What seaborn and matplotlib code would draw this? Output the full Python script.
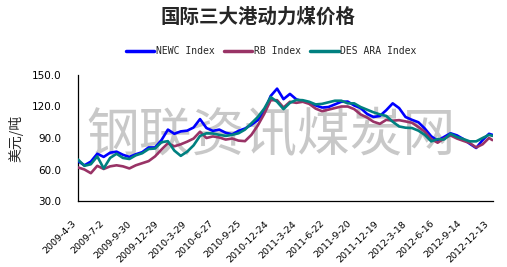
import matplotlib
matplotlib.use("Agg")
import matplotlib.pyplot as plt
import seaborn as sns
import pandas as pd
import numpy as np

# ---- data ----
sample_dates = list(pd.date_range("2009-04-03", periods=65, freq="21D")) + [pd.Timestamp("2012-12-18")]

newc = [68, 64, 67.5, 75, 72, 76, 77, 74, 72, 74.5, 76.5, 81, 81, 88, 98, 94, 96.3, 97, 100, 108,
        99.5, 96.8, 98, 95, 93.5, 96.8, 99, 102.6, 107, 115, 130, 137, 127, 132, 126.8, 125, 123.5,
        121, 119, 119.5, 122, 124.5, 124.7, 121, 118.5, 113, 110, 111, 116.5, 123, 118.5, 110,
        107.3, 105, 99, 91.6, 87.5, 91, 94.5, 92.5, 89, 84.5, 80.5, 88, 94, 93]
rb = [62, 60, 56.5, 63.5, 60.5, 63, 64, 63, 61, 64, 66, 68, 72.5, 79, 85, 82.1, 84, 86.5, 89.5, 96,
      90, 91.5, 90.5, 88.5, 89.5, 87.5, 87, 93, 102, 113, 126, 126, 119, 124.5, 123.5, 124.5, 122.5,
      118, 115.5, 117, 118.5, 120, 120, 117.5, 112.5, 109.5, 105.5, 103.5, 107.3, 106.5, 107, 105.8,
      104.5, 100.5, 96, 89, 85.5, 89.5, 92.5, 89.5, 87.3, 85.2, 81, 84, 90, 88]
des_ara = [69.5, 63.5, 65, 72.5, 61, 71, 75, 71, 70, 73.5, 75.5, 79.5, 80, 86, 87, 78, 73, 77, 83, 92,
           94.5, 94.3, 93, 92, 93, 94.5, 98, 104, 110, 118, 129, 124.5, 117.5, 123.5, 126.3, 126,
           124.5, 122, 122.5, 124, 125.5, 125.5, 123, 123, 119.5, 117, 114.5, 112.5, 111, 105.5,
           101, 99.8, 99.5, 97, 93, 86.8, 89, 88.5, 94, 91, 89, 86.8, 86.8, 90, 93, 92]

series_names = ["NEWC Index", "RB Index", "DES ARA Index"]
colors = ["#0000FF", "#993366", "#008080"]
tick_dates = pd.date_range("2009-04-03", periods=16, freq="90D")
tick_labels = [f"{d.year}-{d.month}-{d.day}" for d in tick_dates]
y_ticks = [30, 60, 90, 120, 150]
title = "国际三大港动力煤价格"
ylabel = "美元/吨"
watermark = "钢联资讯煤炭网"

df = pd.DataFrame({
    "date": sample_dates * 3,
    "value": newc + rb + des_ara,
    "series": [series_names[0]] * len(newc) + [series_names[1]] * len(rb) + [series_names[2]] * len(des_ara),
})

sns.set_style("white")
plt.rcParams["font.family"] = ["DejaVu Sans", "Noto Sans CJK SC"]

fig = plt.figure(figsize=(5.07, 2.67), dpi=100)
ax = fig.add_axes([78 / 507, 66 / 267, 415 / 507, 126 / 267])

sns.lineplot(data=df, x="date", y="value", hue="series", hue_order=series_names,
             palette=dict(zip(series_names, colors)), linewidth=1.9, ax=ax, legend=False,
             estimator=None, sort=False, zorder=3)

ax.set_xlim(pd.Timestamp("2009-04-03"), pd.Timestamp("2012-12-20"))
ax.set_ylim(30, 150)
ax.set_yticks(y_ticks)
ax.set_yticklabels([f"{v:.1f}" for v in y_ticks], fontsize=7.5)
ax.set_xticks(tick_dates)
ax.set_xticklabels(tick_labels, rotation=45, ha="right", va="top", fontsize=6.8)
ax.tick_params(axis="x", direction="in", length=3, width=0.8, pad=13, colors="black")
ax.tick_params(axis="y", direction="in", length=3, width=0.8, pad=12, colors="black")
ax.set_xlabel("")
ax.set_ylabel(ylabel, fontsize=10, family=["Noto Sans CJK SC"], labelpad=6)
for s in ["top", "right"]:
    ax.spines[s].set_visible(False)
for s in ["left", "bottom"]:
    ax.spines[s].set_color("black")
    ax.spines[s].set_linewidth(0.9)
ax.grid(False)

ax.text(0.465, 0.52, watermark, transform=ax.transAxes, ha="center", va="center",
        fontsize=38, color="#C8C8C8", family=["Noto Sans CJK SC"], weight="light", zorder=1)

fig.text(0.509, 1 - 17 / 267, title, ha="center", va="center", fontsize=14,
         family=["Noto Sans CJK SC"], weight="bold")

handles = [plt.Line2D([], [], color=c, lw=2.5) for c in colors]
fig.legend(handles, series_names, loc="center", bbox_to_anchor=(0.535, 1 - 51 / 267), ncol=3,
           frameon=False, prop={"family": "DejaVu Sans Mono", "size": 7},
           handlelength=2.9, handletextpad=0.15, columnspacing=1.0)

fig.savefig("out.png", dpi=100, facecolor="white")
